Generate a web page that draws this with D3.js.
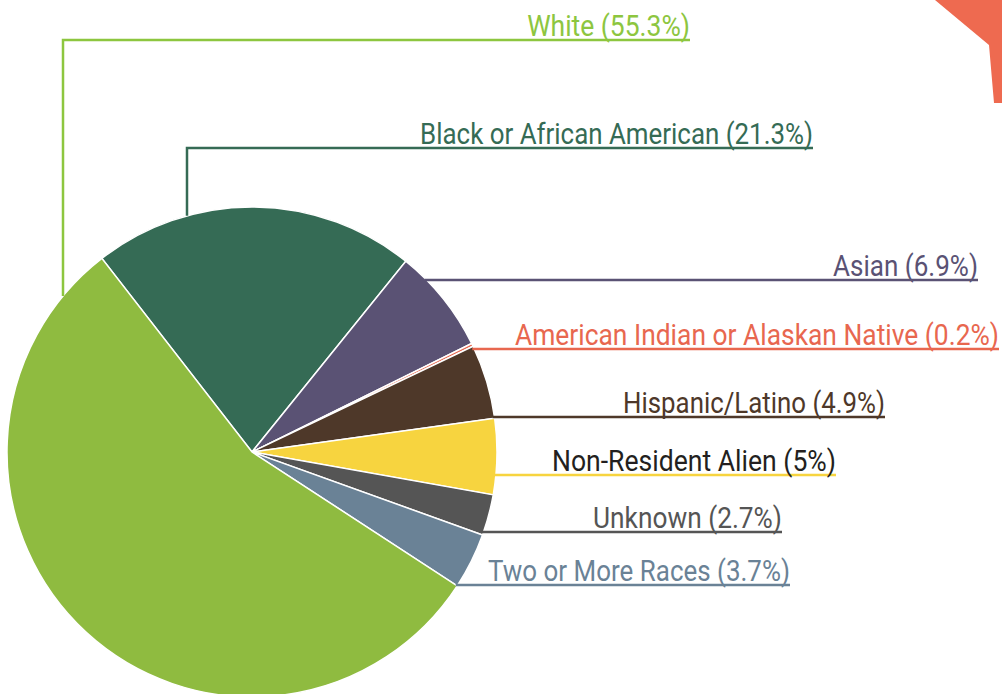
<!DOCTYPE html>
<html><head><meta charset="utf-8">
<script src="https://cdn.jsdelivr.net/npm/d3@7"></script>
<style>body{margin:0;background:#fff;}svg{display:block;}</style>
</head><body>
<svg id="c" width="1002" height="694"></svg>
<script>
const categories = ["Black or African American","Asian","American Indian or Alaskan Native","Hispanic/Latino","Non-Resident Alien","Unknown","Two or More Races","White"];
const values = [21.3, 6.9, 0.2, 4.9, 5, 2.7, 3.7, 55.3];
const valueLabels = ["21.3%","6.9%","0.2%","4.9%","5%","2.7%","3.7%","55.3%"];
const sliceColors = ["#356b55","#5a5274","#e8674f","#4e3829","#f7d43f","#555555","#6a8296","#8fbb40"];
const textColors = ["#356b55","#5a5274","#e8674f","#4e3829","#231f20","#555555","#6a8296","#8dc63f"];
const lineColors = ["#356b55","#5a5274","#e8674f","#4e3829","#f7d43f","#555555","#6a8296","#8dc63f"];
// label layout: line y, line end x, text width, elbow x (null = straight from pie edge)
const labelY = [148, 280, 349, 417, 475, 532, 585, 40];
const labelEndX = [813, 978, 999, 885, 836, 782, 790, 690];
const labelWidth = [393, 145, 484, 262, 284, 189, 302, 163];
const elbowX = [187, null, null, null, null, null, null, 63];

const svg = d3.select("#c");
const cx = 252, cy = 452, R = 245;
const startA = -37.8 * Math.PI / 180;

// decorative orange shape
svg.append("path").attr("d", "M935,0 L1002,0 L1002,103 L994,103 L989,45 Z").attr("fill", "#ee6a50");

const pie = d3.pie().sort(null).value(d => d)
  .startAngle(startA).endAngle(startA + 2 * Math.PI);
const arcs = pie(values);
const arc = d3.arc().innerRadius(0).outerRadius(R);
const g = svg.append("g").attr("transform", `translate(${cx},${cy})`);
g.selectAll("path").data(arcs).enter().append("path")
  .attr("d", arc).attr("fill", (d, i) => sliceColors[i])
  .attr("stroke", "#fff").attr("stroke-width", 1.5);

// leader lines and labels
categories.forEach((c, i) => {
  const y = labelY[i];
  let pts;
  if (elbowX[i] !== null) {
    const x = elbowX[i];
    const yEdge = cy - Math.sqrt(R * R - (x - cx) * (x - cx));
    pts = [[x, yEdge], [x, y], [labelEndX[i], y]];
  } else {
    const dy = y - cy;
    const xEdge = cx + Math.sqrt(R * R - dy * dy);
    pts = [[xEdge - 2, y], [labelEndX[i], y]];
  }
  svg.append("path").attr("d", d3.line()(pts)).attr("fill", "none")
    .attr("stroke", lineColors[i]).attr("stroke-width", 2.5);
  const t = svg.append("text").attr("x", 0).attr("y", 0)
    .attr("text-anchor", "end")
    .attr("font-family", "Roboto, 'Open Sans', sans-serif")
    .attr("font-size", 30).attr("fill", textColors[i])
    .text(`${c} (${valueLabels[i]})`);
  const natural = t.node().getComputedTextLength();
  const sx = labelWidth[i] / natural;
  t.attr("transform", `translate(${labelEndX[i]},${y - 4}) scale(${sx},1)`);
});
</script>
</body></html>
